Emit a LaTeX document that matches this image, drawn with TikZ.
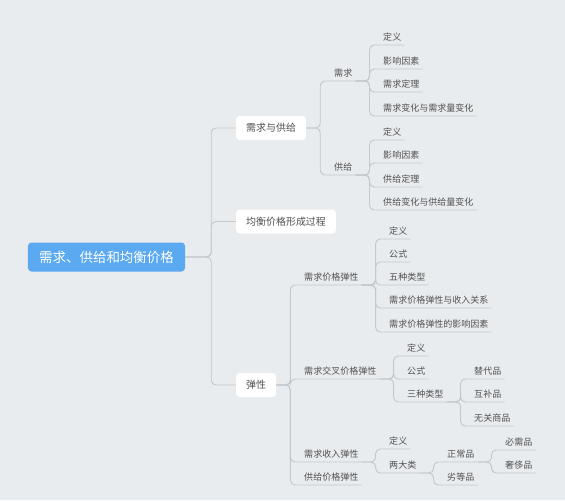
\documentclass[tikz,border=0pt]{standalone}
\usepackage{fontspec}
\setmainfont{Noto Sans CJK SC}
\definecolor{canvas}{HTML}{E9ECEF}
\definecolor{rootblue}{HTML}{5BA9F1}
\definecolor{inkgray}{HTML}{505050}
\definecolor{wire}{HTML}{C3C8CC}

\begin{document}
\begin{tikzpicture}[
    x=0.03cm, y=-0.03cm,
    root/.style={fill=rootblue, text=white, rounded corners=3pt, minimum width=4.71cm, minimum height=0.87cm, inner sep=0pt, font=\fontsize{11.5}{13}\selectfont},
    topic/.style={fill=white, text=inkgray, rounded corners=3pt, anchor=west, inner xsep=0.3cm, minimum height=0.72cm, font=\fontsize{8.5}{10}\selectfont},
    item/.style={anchor=south west, text=inkgray, inner xsep=0.09cm, inner ysep=0.12cm, text depth=0pt, font=\fontsize{7.7}{9}\selectfont},
    link/.style={draw=wire, line width=0.8pt, rounded corners=4pt}
]
    \fill[canvas] (0,0) rectangle (565,500);

    \node[root] (root) at (106.5,257) {需求、供给和均衡价格};

    \node[topic] (sd) at (236,128) {需求与供给};
    \node[topic] (eq) at (236,221.5) {均衡价格形成过程};
    \node[topic] (el) at (236,385) {弹性};

    \node[item] (dem) at (331,81) {需求};
    \node[item] (dem1) at (380,45) {定义};
    \node[item] (dem2) at (380,69) {影响因素};
    \node[item] (dem3) at (380,92) {需求定理};
    \node[item] (dem4) at (380,116) {需求变化与需求量变化};

    \node[item] (sup) at (331,175) {供给};
    \node[item] (sup1) at (380,140) {定义};
    \node[item] (sup2) at (380,163) {影响因素};
    \node[item] (sup3) at (380,187) {供给定理};
    \node[item] (sup4) at (380,210) {供给变化与供给量变化};

    \node[item] (ped) at (301,285) {需求价格弹性};
    \node[item] (ped1) at (386,239) {定义};
    \node[item] (ped2) at (386,262) {公式};
    \node[item] (ped3) at (386,285) {五种类型};
    \node[item] (ped4) at (386,308) {需求价格弹性与收入关系};
    \node[item] (ped5) at (386,332) {需求价格弹性的影响因素};

    \node[item] (xed) at (301,379) {需求交叉价格弹性};
    \node[item] (xed1) at (404,356) {定义};
    \node[item] (xed2) at (404,379) {公式};
    \node[item] (xed3) at (404,402) {三种类型};
    \node[item] (kind1) at (471,379) {替代品};
    \node[item] (kind2) at (471,402) {互补品};
    \node[item] (kind3) at (471,426) {无关商品};

    \node[item] (yed) at (301,462) {需求收入弹性};
    \node[item] (yed1) at (386,449) {定义};
    \node[item] (yed2) at (386,473) {两大类};
    \node[item] (good1) at (444,462) {正常品};
    \node[item] (good2) at (444,485) {劣等品};
    \node[item] (norm1) at (502,450) {必需品};
    \node[item] (norm2) at (502,473) {奢侈品};

    \node[item] (pes) at (301,485) {供给价格弹性};

    \draw[link] (root.east) -- ++(26,0) |- (sd.west);
    \draw[link] (root.east) -- ++(26,0) |- (eq.west);
    \draw[link] (root.east) -- ++(26,0) |- (el.west);

    \draw[link] (sd.east) -- ++(14,0) |- (dem.south east);
    \draw[link] (sd.east) -- ++(14,0) |- (sup.south east);
    \draw[link] (dem.south east) -- ++(14,0) |- (dem1.south east);
    \draw[link] (dem.south east) -- ++(14,0) |- (dem2.south east);
    \draw[link] (dem.south east) -- ++(14,0) |- (dem3.south east);
    \draw[link] (dem.south east) -- ++(14,0) |- (dem4.south east);
    \draw[link] (sup.south east) -- ++(14,0) |- (sup1.south east);
    \draw[link] (sup.south east) -- ++(14,0) |- (sup2.south east);
    \draw[link] (sup.south east) -- ++(14,0) |- (sup3.south east);
    \draw[link] (sup.south east) -- ++(14,0) |- (sup4.south east);

    \draw[link] (el.east) -- ++(14,0) |- (ped.south east);
    \draw[link] (el.east) -- ++(14,0) |- (xed.south east);
    \draw[link] (el.east) -- ++(14,0) |- (yed.south east);
    \draw[link] (el.east) -- ++(14,0) |- (pes.south east);
    \draw[link] (ped.south east) -- ++(14,0) |- (ped1.south east);
    \draw[link] (ped.south east) -- ++(14,0) |- (ped2.south east);
    \draw[link] (ped.south east) -- ++(14,0) |- (ped3.south east);
    \draw[link] (ped.south east) -- ++(14,0) |- (ped4.south east);
    \draw[link] (ped.south east) -- ++(14,0) |- (ped5.south east);
    \draw[link] (xed.south east) -- ++(14,0) |- (xed1.south east);
    \draw[link] (xed.south east) -- ++(14,0) |- (xed2.south east);
    \draw[link] (xed.south east) -- ++(14,0) |- (xed3.south east);
    \draw[link] (xed3.south east) -- ++(14,0) |- (kind1.south east);
    \draw[link] (xed3.south east) -- ++(14,0) |- (kind2.south east);
    \draw[link] (xed3.south east) -- ++(14,0) |- (kind3.south east);
    \draw[link] (yed.south east) -- ++(14,0) |- (yed1.south east);
    \draw[link] (yed.south east) -- ++(14,0) |- (yed2.south east);
    \draw[link] (yed2.south east) -- ++(14,0) |- (good1.south east);
    \draw[link] (yed2.south east) -- ++(14,0) |- (good2.south east);
    \draw[link] (good1.south east) -- ++(14,0) |- (norm1.south east);
    \draw[link] (good1.south east) -- ++(14,0) |- (norm2.south east);
\end{tikzpicture}
\end{document}
